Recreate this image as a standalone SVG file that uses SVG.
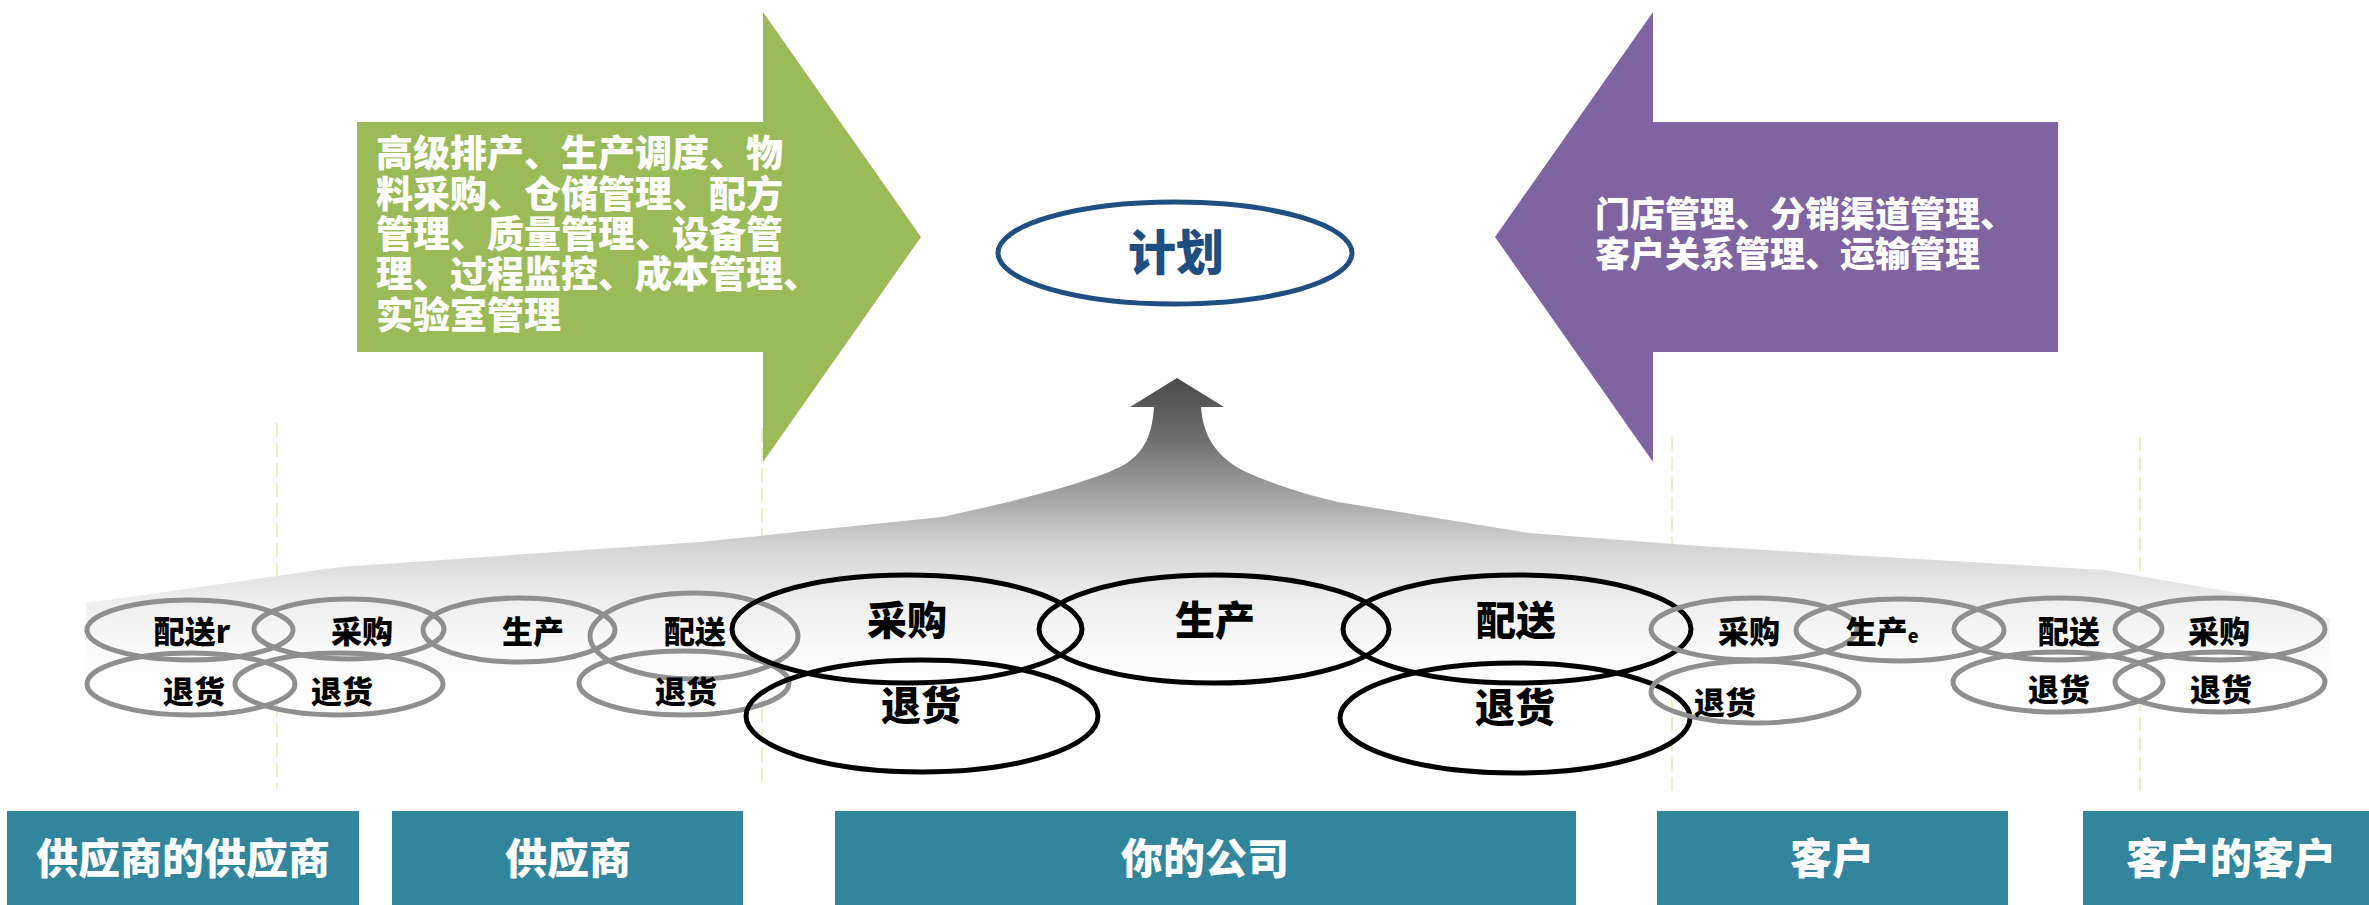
<svg xmlns="http://www.w3.org/2000/svg" width="2369" height="905" viewBox="0 0 2369 905">
<defs>
<linearGradient id="funnelGrad" gradientUnits="userSpaceOnUse" x1="0" y1="378" x2="0" y2="700">
<stop offset="0" stop-color="#4a4a4a"/>
<stop offset="0.19" stop-color="#6e6e6e"/>
<stop offset="0.38" stop-color="#a8a8a8"/>
<stop offset="0.52" stop-color="#d4d4d4"/>
<stop offset="0.69" stop-color="#eeeeee"/>
<stop offset="0.84" stop-color="#fafafa"/>
<stop offset="1" stop-color="#ffffff"/>
</linearGradient>
<style>
text{font-family:"Noto Sans CJK SC","Noto Sans",sans-serif;font-weight:900;}
.g{fill:none;stroke:#8f8f8f;stroke-width:5;}
.b{fill:none;stroke:#000;stroke-width:5;}
.gl{font-size:31px;fill:#000;text-anchor:middle;}
.bl{font-size:40px;fill:#000;text-anchor:middle;}
.box{fill:#31859c;}
.bt{font-size:42px;fill:#fff;text-anchor:middle;}
.at{font-size:37px;fill:#fff;}
.pt{font-size:35px;fill:#fff;}
.dash{stroke:#e4ebb8;stroke-width:1.6;stroke-dasharray:14 6;fill:none;}
</style>
</defs>
<rect width="2369" height="905" fill="#fff"/>

<g id="dividers">
<line class="dash" x1="277" y1="423" x2="277" y2="788"/>
<line class="dash" x1="762" y1="428" x2="762" y2="788"/>
<line class="dash" x1="1672" y1="437" x2="1672" y2="796"/>
<line class="dash" x1="2140" y1="437" x2="2140" y2="796"/>
</g>

<g id="connectors">
<path id="funnel-arrow" fill="url(#funnelGrad)" d="M86 603 L340 567 L700 542 L942 517 C1020 500 1100 480 1127 463 C1145 450 1152 435 1154 407 L1130 407 L1177 378 L1224 407 L1201 407 C1203 435 1215 455 1242 470 C1280 488 1320 498 1338 502 L1529 533 L1700 546 L2104 570 L2250 595 L2330 618 L2330 700 L86 700 Z"/>
</g>

<g id="green-arrow">
<polygon fill="#9bbb59" points="357,122 763,122 763,12 921,237 763,462 763,352 357,352"/>
<text class="at" x="376" y="167">高级排产、生产调度、物</text>
<text class="at" x="376" y="208">料采购、仓储管理、配方</text>
<text class="at" x="376" y="248">管理、质量管理、设备管</text>
<text class="at" x="376" y="288">理、过程监控、成本管理、</text>
<text class="at" x="376" y="329">实验室管理</text>
</g>

<g id="purple-arrow">
<polygon fill="#8064a2" points="2058,122 1653,122 1653,12 1495,237 1653,462 1653,352 2058,352"/>
<text class="pt" x="1595" y="227">门店管理、分销渠道管理、</text>
<text class="pt" x="1595" y="267">客户关系管理、运输管理</text>
</g>

<g id="plan">
<ellipse cx="1175" cy="253" rx="177" ry="51" fill="none" stroke="#1f4e82" stroke-width="5"/>
<text x="1176" y="270" font-size="48" fill="#1f4e82" text-anchor="middle">计划</text>
</g>

<g id="supplier-of-supplier-ellipses">
<ellipse class="g" cx="190" cy="630" rx="103" ry="30"/>
<ellipse class="g" cx="191" cy="684" rx="104" ry="31"/>
<text class="gl" x="192" y="643">配送r</text>
<text class="gl" x="194" y="703">退货</text>
</g>

<g id="supplier-ellipses">
<ellipse class="g" cx="349" cy="629" rx="95" ry="30"/>
<ellipse class="g" cx="339" cy="684" rx="104" ry="31"/>
<ellipse class="g" cx="519" cy="630" rx="96" ry="32"/>
<ellipse class="g" cx="694" cy="636" rx="104" ry="43"/>
<ellipse class="g" cx="684" cy="683" rx="105" ry="32"/>
<text class="gl" x="362" y="643">采购</text>
<text class="gl" x="342" y="703">退货</text>
<text class="gl" x="533" y="643">生产</text>
<text class="gl" x="695" y="643">配送</text>
<text class="gl" x="686" y="703">退货</text>
</g>

<g id="company-ellipses">
<ellipse class="b" cx="907" cy="629" rx="175" ry="54"/>
<ellipse class="b" cx="1214" cy="629" rx="175" ry="54"/>
<ellipse class="b" cx="1517" cy="629" rx="174" ry="54"/>
<ellipse class="b" cx="922" cy="716" rx="176" ry="56"/>
<ellipse class="b" cx="1515" cy="718" rx="175" ry="55"/>
<text class="bl" x="907" y="635">采购</text>
<text class="bl" x="1215" y="635">生产</text>
<text class="bl" x="1516" y="635">配送</text>
<text class="bl" x="921" y="720">退货</text>
<text class="bl" x="1515" y="722">退货</text>
</g>

<g id="customer-ellipses">
<ellipse class="g" cx="1754" cy="629" rx="103" ry="31"/>
<ellipse class="g" cx="1900" cy="630" rx="104" ry="31"/>
<ellipse class="g" cx="2058" cy="629" rx="104" ry="31"/>
<ellipse class="g" cx="1755" cy="692" rx="104" ry="31"/>
<ellipse class="g" cx="2058" cy="682" rx="105" ry="30"/>
<text class="gl" x="1749" y="643">采购</text>
<text class="gl" x="1882" y="643" text-anchor="start">生产<tspan font-size="18">e</tspan></text>
<text class="gl" x="2069" y="643">配送</text>
<text class="gl" x="1725" y="714">退货</text>
<text class="gl" x="2059" y="701">退货</text>
</g>

<g id="customer-of-customer-ellipses">
<ellipse class="g" cx="2220" cy="629" rx="105" ry="31"/>
<ellipse class="g" cx="2220" cy="682" rx="105" ry="30"/>
<text class="gl" x="2219" y="643">采购</text>
<text class="gl" x="2221" y="701">退货</text>
</g>

<g id="box-supplier-of-supplier">
<rect class="box" x="7" y="811" width="352" height="94"/>
<text class="bt" x="183" y="874">供应商的供应商</text>
</g>
<g id="box-supplier">
<rect class="box" x="392" y="811" width="351" height="94"/>
<text class="bt" x="568" y="874">供应商</text>
</g>
<g id="box-company">
<rect class="box" x="835" y="811" width="741" height="94"/>
<text class="bt" x="1205" y="874">你的公司</text>
</g>
<g id="box-customer">
<rect class="box" x="1657" y="811" width="351" height="94"/>
<text class="bt" x="1832" y="874">客户</text>
</g>
<g id="box-customer-of-customer">
<rect class="box" x="2083" y="811" width="290" height="94"/>
<text class="bt" x="2231" y="874">客户的客户</text>
</g>
</svg>
